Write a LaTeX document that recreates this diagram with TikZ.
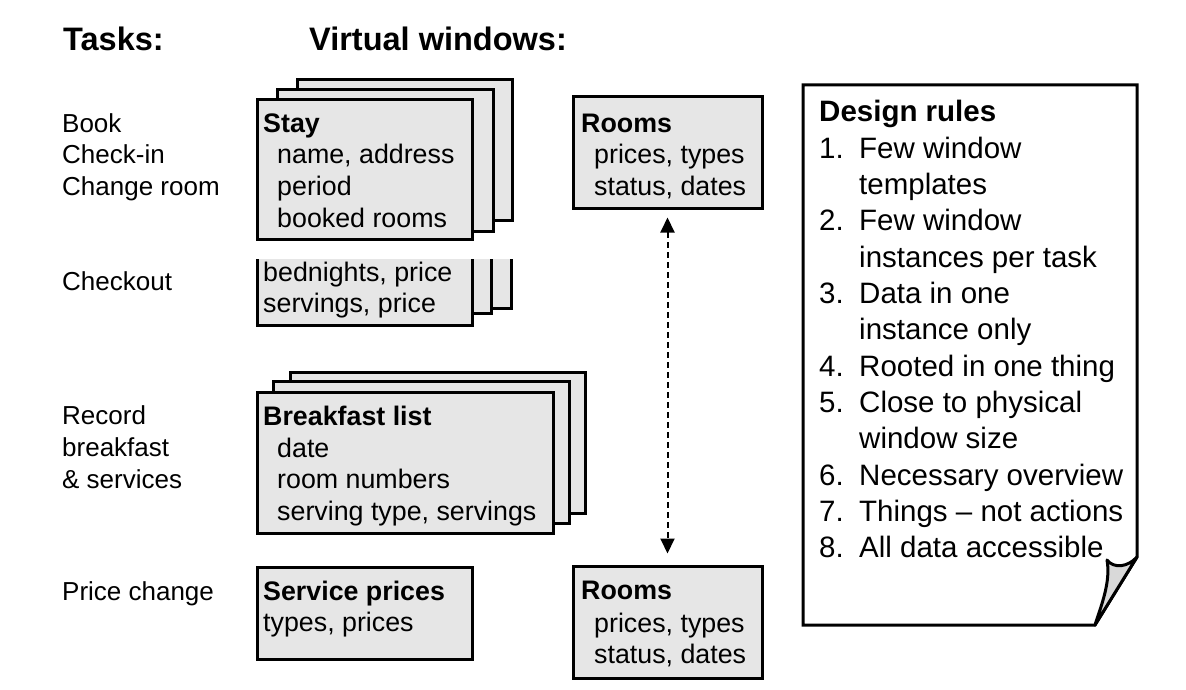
\documentclass[tikz,border=0pt]{standalone}
\usepackage{fontspec}
\setmainfont{Liberation Sans}
\usetikzlibrary{arrows.meta}
\definecolor{boxgray}{HTML}{E6E6E6}
\definecolor{flapgray}{HTML}{D9D9D9}
\begin{document}
\begin{tikzpicture}[x=1pt,y=-1pt,
  winbox/.style={fill=boxgray, draw=black, line width=3pt, inner sep=0pt, outer sep=1.5pt},
  task/.style={anchor=base west, inner sep=0pt, font=\fontsize{26}{31}\selectfont},
  txt/.style={anchor=base west, inner sep=0pt, font=\fontsize{26.8}{31}\selectfont},
  ttl/.style={anchor=base west, inner sep=0pt, font=\fontsize{26.8}{31}\selectfont\bfseries},
  head/.style={anchor=base west, inner sep=0pt, font=\fontsize{32.5}{36}\selectfont\bfseries},
  rule/.style={anchor=base west, inner sep=0pt, font=\fontsize{29.5}{36}\selectfont},
  ruletitle/.style={anchor=base west, inner sep=0pt, font=\fontsize{29.5}{36}\selectfont\bfseries},
  link/.style={line width=2pt, dash pattern=on 6pt off 4pt, {Triangle[width=14pt,length=15pt]}-{Triangle[width=14pt,length=15pt]}}
]
\useasboundingbox (0,0) rectangle (1186,690);

% headings
\node[head] (hTasks) at (63,51) {Tasks:};
\node[head] (hVW) at (309,51) {Virtual windows:};

% task labels
\node[task] (t1) at (62,132) {Book};
\node[task] (t2) at (62,164) {Check-in};
\node[task] (t3) at (62,195) {Change room};
\node[task] (t4) at (62,290) {Checkout};
\node[task] (t5) at (62,424) {Record};
\node[task] (t6) at (62,456) {breakfast};
\node[task] (t7) at (62,488) {\& services};
\node[task] (t8) at (62,600) {Price change};

% Stay stack
\node[winbox, minimum width=215pt, minimum height=140pt] (stay3) at (404.5,150) {};
\node[winbox, minimum width=216pt, minimum height=141pt] (stay2) at (385,160.5) {};
\node[winbox, minimum width=215pt, minimum height=139pt] (stay) at (364.5,169.5) {};
\node[ttl] (stayT) at (263,133) {Stay};
\node[txt] (stay1) at (277,164) {name, address};
\node[txt] (stayb) at (277,195) {period};
\node[txt] (stayc) at (277,227) {booked rooms};

% Checkout stack (open top)
\path[fill=boxgray] (296,259) rectangle (511,308);
\draw[line width=3pt] (511,259) -- (511,308) -- (296,308);
\path[fill=boxgray] (276,259) rectangle (491,313);
\draw[line width=3pt] (491,259) -- (491,313) -- (276,313);
\path[fill=boxgray] (257,259) rectangle (472,325);
\draw[line width=3pt, line join=miter] (257,259) -- (257,325) -- (472,325) -- (472,259);
\node[txt] (co1) at (263,281) {bednights, price};
\node[txt] (co2) at (263,312) {servings, price};

% Breakfast stack
\node[winbox, minimum width=295pt, minimum height=141pt] (bf3) at (437.5,442.5) {};
\node[winbox, minimum width=296pt, minimum height=142pt] (bf2) at (421,452) {};
\node[winbox, minimum width=296pt, minimum height=141pt] (bf) at (405,462.5) {};
\node[ttl] (bfT) at (263,425) {Breakfast list};
\node[txt] (bf1) at (277,457) {date};
\node[txt] (bfb) at (277,488) {room numbers};
\node[txt] (bfc) at (277,520) {serving type, servings};

% Service prices
\node[winbox, minimum width=215pt, minimum height=92pt] (sp) at (364.5,613) {};
\node[ttl] (spT) at (263,600) {Service prices};
\node[txt] (sp1) at (263,631) {types, prices};

% Rooms (top)
\node[winbox, minimum width=189pt, minimum height=111pt] (roomsA) at (667.5,152.5) {};
\node[ttl] (rAT) at (581,132) {Rooms};
\node[txt] (rA1) at (594,164) {prices, types};
\node[txt] (rA2) at (594,195) {status, dates};

% Rooms (bottom)
\node[winbox, minimum width=189pt, minimum height=112pt] (roomsB) at (667.5,622) {};
\node[ttl] (rBT) at (581,599) {Rooms};
\node[txt] (rB1) at (594,632) {prices, types};
\node[txt] (rB2) at (594,663) {status, dates};

% dashed connector
\draw[link, shorten <=8pt, shorten >=11pt] (roomsA.south) -- (roomsB.north);

% Design rules page
\draw[line width=3pt, fill=white, line join=miter]
  (803,85) -- (1137,85) -- (1137,557) -- (1095,625) -- (803,625) -- cycle;
\draw[line width=3pt, fill=flapgray, line join=round]
  (1137,557) .. controls (1128,567) and (1114,569) .. (1107,560)
  .. controls (1111,582) and (1101,606) .. (1095,625) -- cycle;

\node[ruletitle] (drT) at (819,122) {Design rules};
\foreach \n/\y in {1/158.3, 2/230.9, 3/303.5, 4/376.1, 5/412.4, 6/485, 7/521.3, 8/557.6}{
  \node[rule] (num\n) at (819,\y) {\n.};
}
\node[rule] (r1a) at (859,158.3) {Few window};
\node[rule] (r1b) at (859,194.6) {templates};
\node[rule] (r2a) at (859,230.9) {Few window};
\node[rule] (r2b) at (859,267.2) {instances per task};
\node[rule] (r3a) at (859,303.5) {Data in one};
\node[rule] (r3b) at (859,339.8) {instance only};
\node[rule] (r4) at (859,376.1) {Rooted in one thing};
\node[rule] (r5a) at (859,412.4) {Close to physical};
\node[rule] (r5b) at (859,448.7) {window size};
\node[rule] (r6) at (859,485) {Necessary overview};
\node[rule] (r7) at (859,521.3) {Things -- not actions};
\node[rule] (r8) at (859,557.6) {All data accessible};
\end{tikzpicture}
\end{document}
